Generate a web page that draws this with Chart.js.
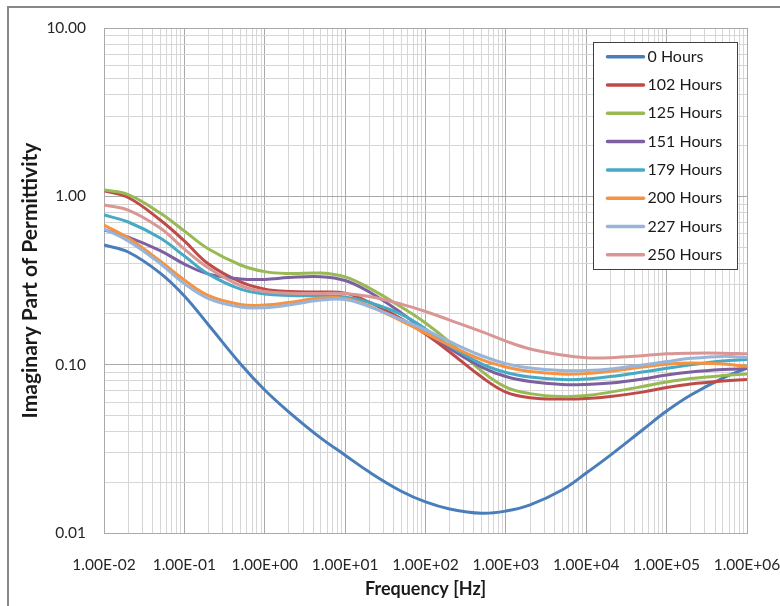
<!DOCTYPE html>
<html><head><meta charset="utf-8">
<script src="https://cdn.jsdelivr.net/npm/chart.js@4.4.0/dist/chart.umd.min.js"></script>
<style>html,body{margin:0;padding:0;background:#fff}canvas{display:block}</style>
</head><body>
<canvas id="c" width="780" height="606"></canvas>
<script>
// ---- data ----
const frequencies = [0.01, 0.02, 0.05, 0.1, 0.2, 0.5, 1, 2, 5, 10, 20, 50, 100, 200, 500, 1e3, 2e3, 5e3, 1e4, 2e4, 5e4, 1e5, 2e5, 5e5, 1e6];
const hours0   = [0.514, 0.467, 0.350, 0.256, 0.172, 0.101, 0.0707, 0.0523, 0.0366, 0.0290, 0.0230, 0.0177, 0.0153, 0.0139, 0.0131, 0.0135, 0.0147, 0.0180, 0.0227, 0.0290, 0.0409, 0.0530, 0.0660, 0.0833, 0.0954];
const hours102 = [1.080, 0.984, 0.723, 0.543, 0.396, 0.310, 0.281, 0.272, 0.270, 0.266, 0.235, 0.187, 0.152, 0.119, 0.0844, 0.0687, 0.0637, 0.0625, 0.0629, 0.0646, 0.0687, 0.0731, 0.0767, 0.0799, 0.0816];
const hours125 = [1.090, 1.025, 0.796, 0.622, 0.486, 0.391, 0.357, 0.348, 0.350, 0.332, 0.285, 0.220, 0.177, 0.136, 0.0916, 0.0736, 0.0673, 0.0646, 0.0655, 0.0687, 0.0741, 0.0788, 0.0827, 0.0861, 0.0879];
const hours151 = [0.631, 0.573, 0.476, 0.396, 0.345, 0.323, 0.321, 0.329, 0.333, 0.316, 0.270, 0.203, 0.158, 0.125, 0.0968, 0.0850, 0.0794, 0.0762, 0.0762, 0.0777, 0.0821, 0.0868, 0.0904, 0.0935, 0.0948];
const hours179 = [0.774, 0.704, 0.565, 0.442, 0.345, 0.281, 0.263, 0.258, 0.256, 0.252, 0.234, 0.199, 0.163, 0.129, 0.101, 0.0898, 0.0844, 0.0816, 0.0821, 0.0850, 0.0904, 0.0951, 0.0997, 0.1050, 0.1075];
const hours200 = [0.675, 0.565, 0.413, 0.318, 0.257, 0.228, 0.226, 0.234, 0.249, 0.247, 0.223, 0.182, 0.154, 0.130, 0.107, 0.0968, 0.0910, 0.0879, 0.0885, 0.0913, 0.0968, 0.1006, 0.1022, 0.1008, 0.0974];
const hours227 = [0.639, 0.543, 0.399, 0.303, 0.247, 0.220, 0.218, 0.226, 0.242, 0.244, 0.221, 0.185, 0.161, 0.137, 0.113, 0.1015, 0.0954, 0.0922, 0.0922, 0.0941, 0.0995, 0.1043, 0.1090, 0.1120, 0.1102];
const hours250 = [0.888, 0.829, 0.648, 0.486, 0.375, 0.295, 0.272, 0.266, 0.265, 0.265, 0.254, 0.229, 0.207, 0.184, 0.157, 0.138, 0.124, 0.114, 0.110, 0.110, 0.113, 0.116, 0.117, 0.117, 0.116];

const seriesLabels = ['0 Hours', '102 Hours', '125 Hours', '151 Hours', '179 Hours', '200 Hours', '227 Hours', '250 Hours'];
const seriesValues = [hours0, hours102, hours125, hours151, hours179, hours200, hours227, hours250];
const seriesColors = ['#4A7EBB', '#BE4B48', '#98B954', '#7D60A0', '#46AAC5', '#F69240', '#97B5DA', '#D99694'];

const xTickLabels = ['1.00E-02', '1.00E-01', '1.00E+00', '1.00E+01', '1.00E+02', '1.00E+03', '1.00E+04', '1.00E+05', '1.00E+06'];
const yTickLabels = ['0.01', '0.10', '1.00', '10.00'];
const xTitle = 'Frequency [Hz]';
const yTitle = 'Imaginary Part of Permittivity';

// ---- helpers ----
function logTicks(minExp, maxExp) {
  const out = [];
  for (let e = minExp; e < maxExp; e++) {
    for (let m = 1; m <= 9; m++) out.push(Number((m * Math.pow(10, e)).toPrecision(6)));
  }
  out.push(Number(Math.pow(10, maxExp).toPrecision(6)));
  return out;
}
function isDecade(v) {
  const e = Math.log10(v);
  return Math.abs(e - Math.round(e)) < 1e-9;
}
const xMinExp = -2, xMaxExp = 6, yMinExp = -2, yMaxExp = 1;
const majorGrid = '#a9a9a9', minorGrid = '#d6d6d6';

Chart.defaults.font.family = 'Lato, "Open Sans", sans-serif';

const framePlugin = {
  id: 'frame',
  beforeDraw(chart) {
    const ctx = chart.ctx;
    ctx.save();
    ctx.fillStyle = '#ffffff';
    ctx.fillRect(0, 0, chart.width, chart.height);
    ctx.strokeStyle = '#888888';
    ctx.lineWidth = 2;
    ctx.beginPath();
    ctx.moveTo(8, chart.height);
    ctx.lineTo(8, 7);
    ctx.lineTo(chart.width, 7);
    ctx.stroke();
    ctx.restore();
  }
};

const insideLegend = {
  id: 'insideLegend',
  afterDraw(chart) {
    const ctx = chart.ctx;
    const area = chart.chartArea;
    const w = 144, h = 227;
    const x0 = Math.round(area.right - 10 - w) + 0.5;
    const y0 = Math.round(area.top + 14) + 0.5;
    ctx.save();
    ctx.fillStyle = '#ffffff';
    ctx.fillRect(x0, y0, w, h);
    ctx.strokeStyle = '#404040';
    ctx.lineWidth = 1;
    ctx.strokeRect(x0, y0, w, h);
    ctx.font = '16px Lato, "Open Sans", sans-serif';
    ctx.textBaseline = 'middle';
    ctx.fillStyle = '#1a1a1a';
    chart.data.datasets.forEach((ds, i) => {
      const y = y0 + 14.2 + i * 28.3;
      ctx.strokeStyle = ds.borderColor;
      ctx.lineWidth = 3.5;
      ctx.lineCap = 'round';
      ctx.beginPath();
      ctx.moveTo(x0 + 14, y);
      ctx.lineTo(x0 + 50, y);
      ctx.stroke();
      ctx.fillText(ds.label, x0 + 54, y);
    });
    ctx.restore();
  }
};

const datasets = seriesLabels.map((label, i) => ({
  label,
  data: frequencies.map((f, j) => ({ x: f, y: seriesValues[i][j] })),
  borderColor: seriesColors[i],
  backgroundColor: seriesColors[i],
  borderWidth: 3,
  pointRadius: 0,
  pointHoverRadius: 0,
  tension: 0.4,
  fill: false,
  order: -i
}));

const gridColor = (c) => (c.tick && isDecade(c.tick.value)) ? majorGrid : minorGrid;

new Chart(document.getElementById('c'), {
  type: 'line',
  data: { datasets },
  plugins: [framePlugin, insideLegend],
  options: {
    responsive: false,
    animation: false,
    events: [],
    layout: { padding: { top: 28, right: 33, bottom: 0, left: 0 } },
    plugins: { legend: { display: false }, tooltip: { enabled: false } },
    scales: {
      x: {
        type: 'logarithmic',
        position: 'bottom',
        min: Math.pow(10, xMinExp),
        max: Math.pow(10, xMaxExp),
        afterBuildTicks: (s) => { s.ticks = logTicks(xMinExp, xMaxExp).map(v => ({ value: v })); },
        afterFit: (s) => { s.height = 73; s.paddingLeft = 0; s.paddingRight = 0; },
        grid: { color: gridColor, lineWidth: 1, drawTicks: false },
        border: { display: true, color: majorGrid },
        ticks: {
          autoSkip: false, maxRotation: 0, minRotation: 0, padding: 23,
          color: '#262626', font: { size: 15.5 },
          callback: (v) => isDecade(v) ? xTickLabels[Math.round(Math.log10(v)) - xMinExp] : ''
        },
        title: { display: true, text: xTitle, color: '#1a1a1a', font: { size: 18, weight: 'bold' }, padding: { top: 0, bottom: 6 } }
      },
      y: {
        type: 'logarithmic',
        position: 'left',
        min: Math.pow(10, yMinExp),
        max: Math.pow(10, yMaxExp),
        afterBuildTicks: (s) => { s.ticks = logTicks(yMinExp, yMaxExp).map(v => ({ value: v })); },
        afterFit: (s) => { s.width = 104; },
        grid: { color: gridColor, lineWidth: 1, drawTicks: false },
        border: { display: true, color: majorGrid },
        ticks: {
          autoSkip: false, padding: 18,
          color: '#262626', font: { size: 15.5 },
          callback: (v) => isDecade(v) ? yTickLabels[Math.round(Math.log10(v)) - yMinExp] : ''
        },
        title: { display: true, text: yTitle, color: '#1a1a1a', font: { size: 21, weight: 'bold' }, padding: { top: 18, bottom: 0 } }
      }
    }
  }
});
</script>
</body></html>
